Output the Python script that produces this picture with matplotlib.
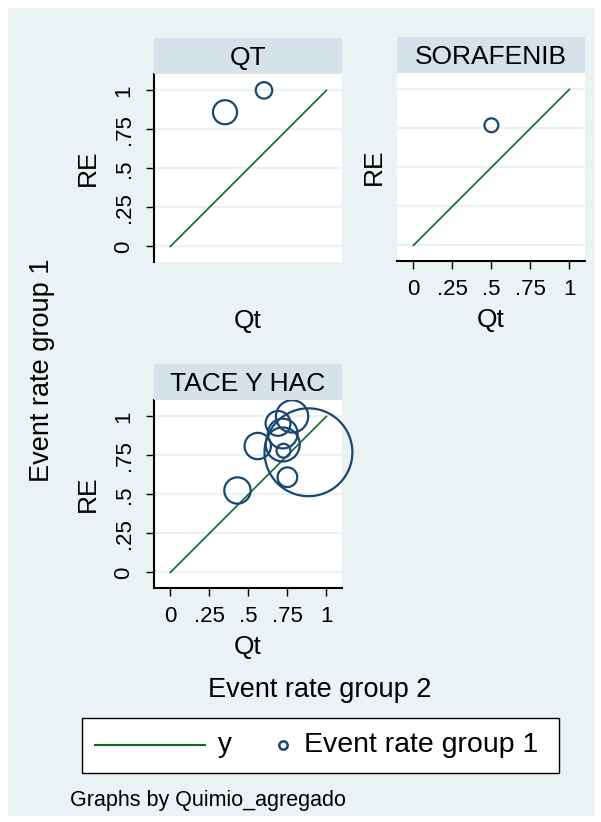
import matplotlib
matplotlib.use("Agg")
import matplotlib.pyplot as plt
from matplotlib.lines import Line2D
from matplotlib.patches import Rectangle

plt.rcParams['font.family'] = ['Liberation Sans', 'DejaVu Sans']

# data
panels = ['QT', 'SORAFENIB', 'TACE Y HAC']
qt_x = [0.35, 0.60]
qt_y = [0.86, 1.00]
qt_w = [15, 7]
sor_x = [0.50]
sor_y = [0.77]
sor_w = [5]
tace_x = [0.885, 0.78, 0.69, 0.72, 0.72, 0.56, 0.725, 0.75, 0.43]
tace_y = [0.77, 1.00, 0.955, 0.89, 0.82, 0.81, 0.78, 0.61, 0.525]
tace_w = [200, 27, 16, 23, 30, 18, 5, 10, 18]
ticks = [0, 0.25, 0.5, 0.75, 1]
tick_labels = ['0', '.25', '.5', '.75', '1']
legend_labels = ['y', 'Event rate group 1']

W, H = 601, 822
BG = '#EAF2F3'
STRIP = '#D6E2E9'
NAVY = '#1A476F'
GREEN = '#11692C'

fig = plt.figure(figsize=(W / 100, H / 100), dpi=100, facecolor='white')
fig.patches.append(Rectangle((8 / W, 1 - 815 / H), 585 / W, 807 / H,
                             transform=fig.transFigure, color=BG, zorder=-10))


def fx(px):
    return px / W


def fy(py):
    return 1 - py / H


def box(left, top, w, h):
    return [left / W, 1 - (top + h) / H, w / W, h / H]


def panel(left, top, title, xs, ys, ws, show_y, show_x):
    ax = fig.add_axes(box(left, top, 188, 188))
    ax.set_facecolor('white')
    ax.set_xlim(-0.105, 1.1)
    ax.set_ylim(-0.1, 1.105)
    for y in ticks:
        ax.axhline(y, color=BG, lw=1.6, zorder=1)
    ax.plot([0, 1], [0, 1], color=GREEN, lw=1.2, zorder=2)
    ax.scatter(xs, ys, s=[20 * w for w in ws], facecolors='none',
               edgecolors=NAVY, linewidths=1.6, zorder=3, clip_on=False)
    for s in ax.spines.values():
        s.set_visible(False)
    ax.set_yticks(ticks)
    ax.set_xticks(ticks)
    if show_y:
        ax.spines['left'].set_visible(True)
        ax.spines['left'].set_linewidth(1.5)
        ax.set_yticklabels(tick_labels, rotation=90, va='center', fontsize=16)
        ax.tick_params(axis='y', length=6, width=1, pad=8)
    else:
        ax.tick_params(axis='y', length=0, labelleft=False)
    ax.set_xticklabels(tick_labels, fontsize=16)
    if show_x:
        ax.spines['bottom'].set_visible(True)
        ax.spines['bottom'].set_linewidth(1.5)
        ax.tick_params(axis='x', length=6, width=1, pad=7)
    else:
        ax.tick_params(axis='x', length=6, pad=7, color='none', labelcolor='none')
    ax.set_ylabel('RE', fontsize=19, labelpad=10 if show_y else 8)
    ax.set_xlabel('Qt', fontsize=19, labelpad=6)
    st = fig.add_axes(box(left, top - 36, 188, 36))
    st.set_facecolor(STRIP)
    st.set_xticks([])
    st.set_yticks([])
    for s in st.spines.values():
        s.set_visible(False)
    st.text(0.5, 0.45, title, ha='center', va='center', fontsize=19,
            transform=st.transAxes)
    return ax


panel(154, 74, panels[0], qt_x, qt_y, qt_w, True, False)
panel(397, 73, panels[1], sor_x, sor_y, sor_w, False, True)
panel(154, 400, panels[2], tace_x, tace_y, tace_w, True, True)

fig.text(fx(42), fy(370), 'Event rate group 1', rotation=90,
         ha='center', va='center', fontsize=19.5)
fig.text(fx(320), fy(690), 'Event rate group 2',
         ha='center', va='center', fontsize=19.5)

# legend box drawn by hand
fig.patches.append(Rectangle((fx(82), fy(773)), (559 - 82) / W, 55 / H,
                             transform=fig.transFigure, facecolor='white',
                             edgecolor='black', lw=1.0))
fig.lines.append(Line2D([fx(95), fx(205)], [fy(745), fy(745)],
                        transform=fig.transFigure, color=GREEN, lw=1.5))
fig.text(fx(218), fy(745), legend_labels[0], ha='left', va='center', fontsize=20)
fig.lines.append(Line2D([fx(283)], [fy(745)], transform=fig.transFigure,
                        marker='o', ls='none', markerfacecolor='none',
                        markeredgecolor=NAVY, markeredgewidth=1.8, markersize=6))
fig.text(fx(304), fy(745), legend_labels[1], ha='left', va='center', fontsize=20.5)

fig.text(fx(70), fy(800), 'Graphs by Quimio_agregado',
         ha='left', va='center', fontsize=15.5)

fig.savefig('out.png', dpi=100, facecolor='white')
